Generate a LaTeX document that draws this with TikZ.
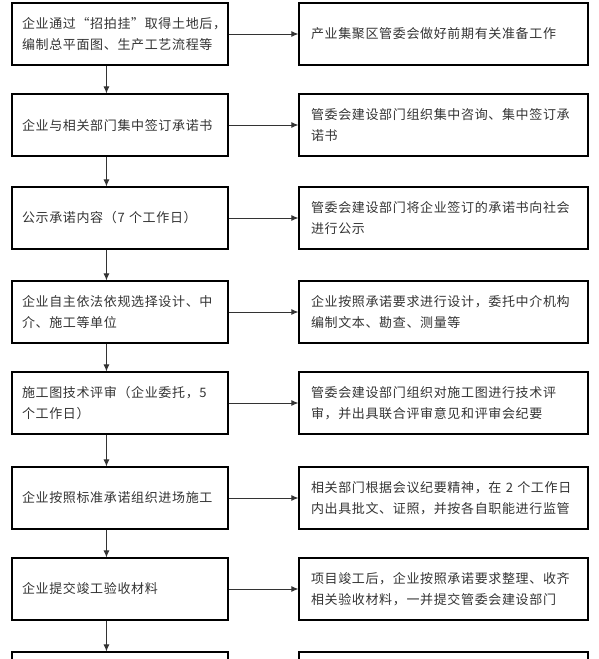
\documentclass[tikz,border=0pt]{standalone}
\usepackage{fontspec}
\newfontfamily\cjk[LetterSpace=5]{Noto Sans CJK SC}
\usetikzlibrary{arrows.meta}

\tikzset{
  box/.style={draw=black, line width=1.1pt, minimum height=62pt, inner ysep=0pt,
    align=left, font=\cjk\fontsize{13}{20.5}\selectfont, text=black!80},
  leftbox/.style={box, minimum width=216pt, inner xsep=10pt, text width=196pt},
  rightbox/.style={box, minimum width=289pt, inner xsep=12pt, text width=265pt},
  flow/.style={-{Latex[length=7pt,width=6pt]}, line width=1pt, draw=black!80}
}

\begin{document}
\begin{tikzpicture}[x=1pt, y=-1pt]
            \useasboundingbox (0,0) rectangle (599,659);
            \clip (0,0) rectangle (599,659);

            % 左列：企业办理步骤
            \node[leftbox] (l1) at (120, 34) {企业通过“招拍挂”取得土地后，\\编制总平面图、生产工艺流程等};
            \node[leftbox] (l2) at (120, 125) {企业与相关部门集中签订承诺书};
            \node[leftbox] (l3) at (120, 218) {公示承诺内容（7 个工作日）};
            \node[leftbox] (l4) at (120, 312) {企业自主依法依规选择设计、中\\介、施工等单位};
            \node[leftbox] (l5) at (120, 403) {施工图技术评审（企业委托，5\\个工作日）};
            \node[leftbox] (l6) at (120, 498) {企业按照标准承诺组织进场施工};
            \node[leftbox] (l7) at (120, 589) {企业提交竣工验收材料};
            \node[leftbox] (l8) at (120, 683) {};

            % 右列：管委会及相关部门工作
            \node[rightbox] (r1) at (443.5, 34) {产业集聚区管委会做好前期有关准备工作};
            \node[rightbox] (r2) at (443.5, 125) {管委会建设部门组织集中咨询、集中签订承\\诺书};
            \node[rightbox] (r3) at (443.5, 218) {管委会建设部门将企业签订的承诺书向社会\\进行公示};
            \node[rightbox] (r4) at (443.5, 312) {企业按照承诺要求进行设计，委托中介机构\\编制文本、勘查、测量等};
            \node[rightbox] (r5) at (443.5, 403) {管委会建设部门组织对施工图进行技术评\\审，并出具联合评审意见和评审会纪要};
            \node[rightbox] (r6) at (443.5, 498) {相关部门根据会议纪要精神，在 2 个工作日\\内出具批文、证照，并按各自职能进行监管};
            \node[rightbox] (r7) at (443.5, 589) {项目竣工后，企业按照承诺要求整理、收齐\\相关验收材料，一并提交管委会建设部门};
            \node[rightbox] (r8) at (443.5, 683) {};

            % 横向箭头
            \draw[flow] (l1.east) -- (r1.west);
            \draw[flow] (l2.east) -- (r2.west);
            \draw[flow] (l3.east) -- (r3.west);
            \draw[flow] (l4.east) -- (r4.west);
            \draw[flow] (l5.east) -- (r5.west);
            \draw[flow] (l6.east) -- (r6.west);
            \draw[flow] (l7.east) -- (r7.west);

            % 纵向箭头
            \draw[flow] ([xshift=95pt]l1.south west) -- ([xshift=95pt]l2.north west);
            \draw[flow] ([xshift=95pt]l2.south west) -- ([xshift=95pt]l3.north west);
            \draw[flow] ([xshift=95pt]l3.south west) -- ([xshift=95pt]l4.north west);
            \draw[flow] ([xshift=95pt]l4.south west) -- ([xshift=95pt]l5.north west);
            \draw[flow] ([xshift=95pt]l5.south west) -- ([xshift=95pt]l6.north west);
            \draw[flow] ([xshift=95pt]l6.south west) -- ([xshift=95pt]l7.north west);
            \draw[flow] ([xshift=95pt]l7.south west) -- ([xshift=95pt]l8.north west);
\end{tikzpicture}
\end{document}
